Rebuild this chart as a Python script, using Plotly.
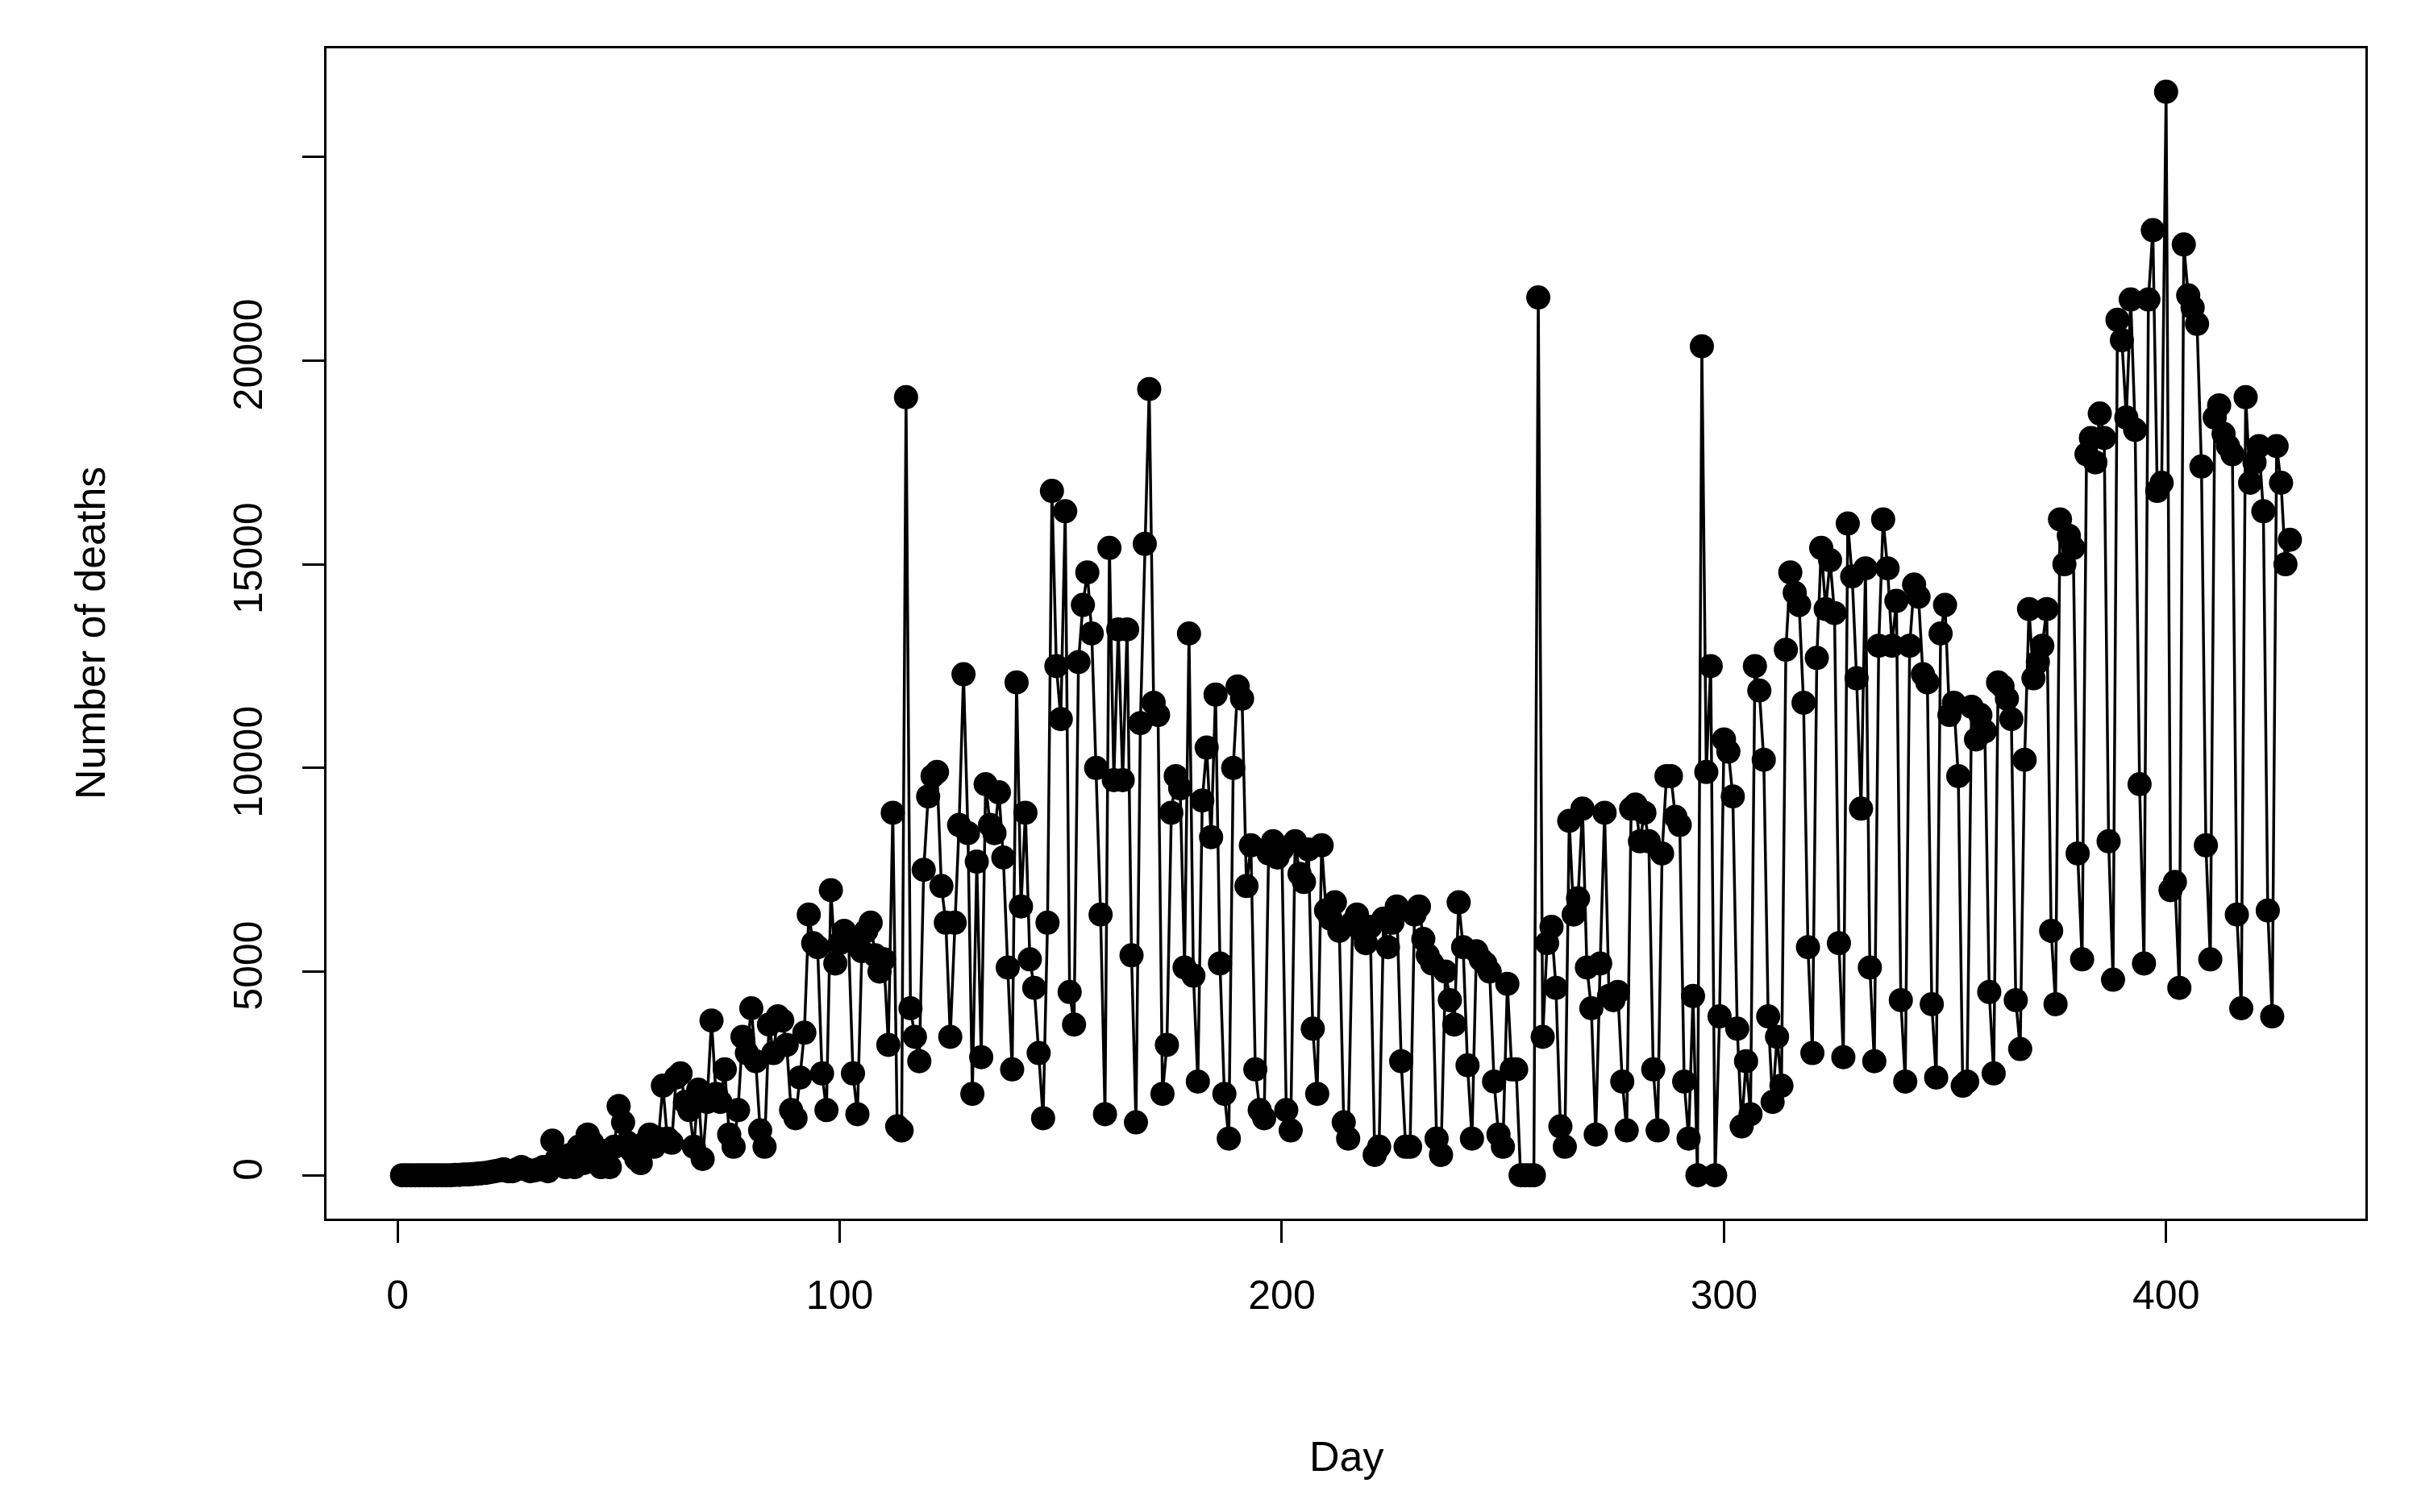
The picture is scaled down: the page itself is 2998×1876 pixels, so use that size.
import plotly.graph_objects as go

# === Daily deaths ===
deaths_1_50 = [0, 0, 0, 0, 0, 0, 0, 0, 0, 0, 0, 0, 10, 10, 20, 20, 30, 40, 50, 60,
               80, 100, 120, 150, 100, 100, 150, 200, 150, 100, 120, 150, 200, 100, 850,
               400, 300, 200, 500, 200, 700, 300, 1000, 800, 300, 200, 600, 200, 700, 1700]
deaths_51_100 = [1300, 800, 600, 400, 300, 800, 1000, 700, 900, 2200, 900, 800, 2400, 2500, 1800,
                 1600, 700, 2100, 400, 1800, 3800, 2000, 1800, 2600, 1000, 700, 1600, 3400, 3000, 4100,
                 2800, 1100, 700, 3700, 3000, 3900, 3800, 3200, 1600, 1400, 2400, 3500, 6400, 5700, 5600,
                 2500, 1600, 7000, 5200, 5700]
deaths_101_150 = [6000, 5800, 2500, 1500, 5500, 6000, 6200, 5400, 5000, 5300, 3200, 8900, 1200, 1100, 19100,
                  4100, 3400, 2800, 7500, 9300, 9800, 9900, 7100, 6200, 3400, 6200, 8600, 12300, 8400, 2000,
                  7700, 2900, 9600, 8600, 8400, 9400, 7800, 5100, 2600, 12100, 6600, 8900, 5300, 4600, 3000,
                  1400, 6200, 16800, 12500, 11200]
deaths_151_200 = [16300, 4500, 3700, 12600, 14000, 14800, 13300, 10000, 6400, 1500, 15400, 9700, 13400, 9700, 13400,
                  5400, 1300, 11100, 15500, 19300, 11600, 11300, 2000, 3200, 8900, 9800, 9500, 5100, 13300, 4900,
                  2300, 9200, 10500, 8300, 11800, 5200, 2000, 900, 10000, 12000, 11700, 7100, 8100, 2600, 1600,
                  1400, 7900, 8200, 7800, 8000]
deaths_201_250 = [1600, 1100, 8200, 7400, 7200, 8000, 3600, 2000, 8100, 6500, 6300, 6700, 6000, 1300, 900,
                  6200, 6400, 6000, 5700, 6100, 500, 700, 6300, 5600, 6200, 6600, 2800, 700, 700, 6400,
                  6600, 5800, 5400, 5200, 900, 500, 5000, 4300, 3700, 6700, 5600, 2700, 900, 5500, 5300,
                  5200, 5000, 2300, 1000, 700]
deaths_251_300 = [4700, 2600, 2600, 0, 0, 0, 0, 21550, 3400, 5700, 6100, 4600, 1200, 700, 8700,
                  6400, 6800, 9000, 5100, 4100, 1000, 5200, 8900, 4400, 4300, 4500, 2300, 1100, 9000, 9100,
                  8200, 8900, 8200, 2600, 1100, 7900, 9800, 9800, 8800, 8600, 2300, 900, 4400, 0, 20350,
                  9900, 12500, 0, 3900, 10700]
deaths_301_350 = [10400, 9300, 3600, 1200, 2800, 1500, 12500, 11900, 10200, 3900, 1800, 3400, 2200, 12900, 14800,
                  14300, 14000, 11600, 5600, 3000, 12700, 15400, 13900, 15100, 13800, 5700, 2900, 16000, 14700, 12200,
                  9000, 14900, 5100, 2800, 13000, 16100, 14900, 13000, 14100, 4300, 2300, 13000, 14500, 14200, 12300,
                  12100, 4200, 2400, 13300, 14000]
deaths_351_400 = [11300, 11600, 9800, 2200, 2300, 11500, 10700, 11300, 10900, 4500, 2500, 12100, 12000, 11700, 11200,
                  4300, 3100, 10200, 13900, 12200, 12600, 13000, 13900, 6000, 4200, 16100, 15000, 15700, 15400, 7900,
                  5300, 17700, 18100, 17500, 18700, 18100, 8200, 4800, 21000, 20500, 18600, 21500, 18300, 9600, 5200,
                  21500, 23200, 16800, 17000, 26600]
deaths_401_430 = [7000, 7200, 4600, 22850, 21600, 21300, 20900, 17400, 8100, 5300, 18600, 18900, 18200, 17900, 17700,
                  6400, 4100, 19100, 17000, 17500, 17900, 16300, 6500, 3900, 17900, 17000, 15000, 15600]

deaths = (deaths_1_50 + deaths_51_100 + deaths_101_150 + deaths_151_200 + deaths_201_250
          + deaths_251_300 + deaths_301_350 + deaths_351_400 + deaths_401_430)
days = list(range(1, len(deaths) + 1))

x_ticks = [0, 100, 200, 300, 400]
y_ticks = [0, 5000, 10000, 15000, 20000, 25000]
y_tick_labels = ["0", "5000", "10000", "15000", "20000", ""]

FONT = "Liberation Sans, Arial, Helvetica, sans-serif"

fig = go.Figure(go.Scatter(
    x=days, y=deaths, mode="lines+markers",
    line=dict(color="black", width=3.5),
    marker=dict(color="black", size=30),
    hovertemplate="Day %{x}<br>Deaths: %{y}<extra></extra>",
))

# R style: 4% padding around the data
xmin, xmax = min(days), max(days)
ymin, ymax = min(deaths), max(deaths)
xpad, ypad = 0.04 * (xmax - xmin), 0.04 * (ymax - ymin)

axis_style = dict(
    ticks="outside", ticklen=27, tickwidth=2.5, tickcolor="black",
    showgrid=False, zeroline=False, showline=True, linecolor="black", linewidth=2.5, mirror=True,
    tickfont=dict(size=50),
)

fig.update_layout(
    width=2998, height=1876,
    margin=dict(l=397, r=72, t=52, b=372),
    plot_bgcolor="white", paper_bgcolor="white",
    showlegend=False,
    font=dict(family=FONT, size=50, color="black"),
    xaxis=dict(range=[xmin - xpad, xmax + xpad], tickvals=x_ticks, ticklabelstandoff=22, **axis_style),
    yaxis=dict(range=[ymin - ypad, ymax + ypad], tickvals=y_ticks, ticktext=y_tick_labels,
               tickangle=-90, ticklabelstandoff=30, **axis_style),
    annotations=[
        dict(text="Day", xref="paper", yref="paper", x=0.5, y=0, yanchor="middle",
             yshift=-295, showarrow=False, font=dict(size=52)),
        dict(text="Number of deaths", xref="paper", yref="paper", x=0, y=0.5, xanchor="center",
             xshift=-293, textangle=-90, showarrow=False, font=dict(size=52)),
    ],
)

fig.write_html("out.html")
